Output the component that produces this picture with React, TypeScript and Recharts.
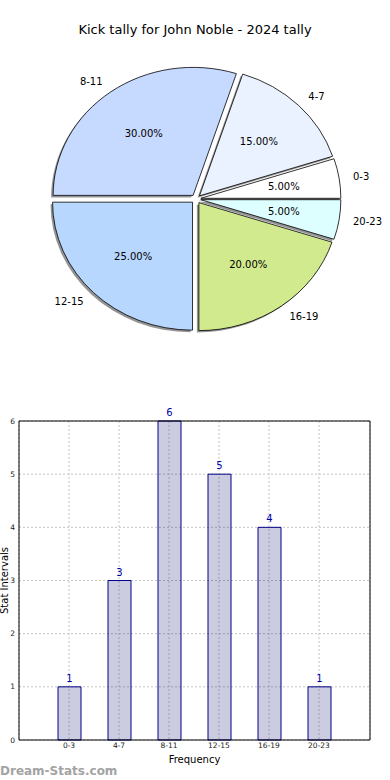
import { PieChart, Pie, BarChart, Bar, XAxis, YAxis, CartesianGrid, LabelList } from 'recharts';

// kick counts per interval
const categories = ['0-3', '4-7', '8-11', '12-15', '16-19', '20-23'];
const counts = [1, 3, 6, 5, 4, 1];
const yTicks = [0, 1, 2, 3, 4, 5, 6];

const sliceColors = ['#ffffff', '#eaf2ff', '#c6d9ff', '#b8d7ff', '#d1ea8d', '#ddffff'];

const pieData = categories.map((name, i) => ({ name, value: counts[i] }));
const barData = categories.map((name, i) => ({ name, value: counts[i] }));

const FONT = '"DejaVu Sans", Verdana, sans-serif';
const RX_RATIO = 140 / 128; // pie is squashed into an ellipse
const EXPLODE = 0.035;
const SHADOW_DX = -2;
const SHADOW_DY = 2;

const RAD = Math.PI / 180;

function geom(p: any) {
  const a0 = p.startAngle;
  const a1 = p.endAngle;
  const mid = (a0 + a1) / 2;
  const ry = p.outerRadius;
  const rx = ry * RX_RATIO;
  const ex = p.cx + EXPLODE * rx * Math.cos(mid * RAD);
  const ey = p.cy - EXPLODE * ry * Math.sin(mid * RAD);
  return { a0, a1, mid, rx, ry, ex, ey };
}

function wedge(ex: number, ey: number, rx: number, ry: number, a0: number, a1: number) {
  const x0 = ex + rx * Math.cos(a0 * RAD);
  const y0 = ey - ry * Math.sin(a0 * RAD);
  const x1 = ex + rx * Math.cos(a1 * RAD);
  const y1 = ey - ry * Math.sin(a1 * RAD);
  const large = a1 - a0 > 180 ? 1 : 0;
  return `M${ex},${ey} L${x0},${y0} A${rx},${ry} 0 ${large} 0 ${x1},${y1} Z`;
}

function renderShadow(p: any) {
  const g = geom(p);
  return (
    <path
      key={`sh-${p.index}`}
      d={wedge(g.ex + SHADOW_DX, g.ey + SHADOW_DY, g.rx, g.ry, g.a0, g.a1)}
      fill="#000"
      fillOpacity={0.42}
      stroke="none"
    />
  );
}

function renderSlice(p: any) {
  const g = geom(p);
  const c = Math.cos(g.mid * RAD);
  const s = Math.sin(g.mid * RAD);
  const lx = g.ex + 1.1 * g.rx * c;
  const ly = g.ey - 1.1 * g.ry * s;
  const px = g.ex + 0.6 * g.rx * c;
  const py = g.ey - 0.6 * g.ry * s;
  return (
    <g key={`sl-${p.index}`}>
      <path
        d={wedge(g.ex, g.ey, g.rx, g.ry, g.a0, g.a1)}
        fill={sliceColors[p.index]}
        stroke="#000"
        strokeWidth={0.8}
      />
      <text x={lx} y={ly} textAnchor={c > 0 ? 'start' : 'end'} dominantBaseline="central"
        fontSize={10} fontFamily={FONT} fill="#000">
        {p.payload.name}
      </text>
      <text x={px} y={py} textAnchor="middle" dominantBaseline="central"
        fontSize={10} fontFamily={FONT} fill="#000">
        {(p.percent * 100).toFixed(2)}%
      </text>
    </g>
  );
}

export default function App() {
  return (
    <div style={{ position: 'absolute', left: 0, top: 0, width: 390, height: 780, overflow: 'hidden', background: '#fff', fontFamily: FONT }}>
      <div style={{ position: 'absolute', left: 0, top: 23, width: 390, textAlign: 'center', fontSize: 13, lineHeight: '13px', color: '#000' }}>
        Kick tally for John Noble - 2024 tally
      </div>

      <div style={{ position: 'absolute', left: 0, top: 0 }}>
        <PieChart width={390} height={380} margin={{ top: 0, right: 0, bottom: 0, left: 0 }}>
          <Pie data={pieData} dataKey="value" nameKey="name" cx={196} cy={199} outerRadius={128}
            startAngle={0} endAngle={360} fill="none" stroke="none"
            label={renderShadow} labelLine={false} isAnimationActive={false} />
          <Pie data={pieData} dataKey="value" nameKey="name" cx={196} cy={199} outerRadius={128}
            startAngle={0} endAngle={360} fill="none" stroke="none"
            label={renderSlice} labelLine={false} isAnimationActive={false} />
        </PieChart>
      </div>

      <div style={{ position: 'absolute', left: 0, top: 400 }}>
        <BarChart width={390} height={380} data={barData} margin={{ top: 20, right: 19, bottom: 0, left: 0 }}>
          <CartesianGrid stroke="#c4c4c4" strokeDasharray="2 2" />
          <XAxis dataKey="name" height={40} padding={{ left: 25, right: 26 }}
            tickSize={0} tickMargin={3} axisLine={{ stroke: '#000' }}
            tick={{ fontSize: 7.5, fill: '#222', fontFamily: FONT }} interval={0}
            label={{ value: 'Frequency', position: 'insideTop', offset: 16, fontSize: 10, fill: '#000', fontFamily: FONT }} />
          <XAxis xAxisId="top" dataKey="name" orientation="top" height={1} tick={false} tickLine={false}
            axisLine={{ stroke: '#000' }} />
          <YAxis width={19} domain={[0, 6]} ticks={yTicks} tickSize={0} tickMargin={4} interval={0}
            axisLine={{ stroke: '#000' }} tick={{ fontSize: 7.5, fill: '#222', fontFamily: FONT }}
            label={{
              value: 'Stat Intervals',
              content: ({ viewBox }: any) => (
                <text x={viewBox.x + 4} y={viewBox.y + viewBox.height / 2}
                  transform={`rotate(-90 ${viewBox.x + 4} ${viewBox.y + viewBox.height / 2})`}
                  textAnchor="middle" dominantBaseline="central" fontSize={10} fontFamily={FONT} fill="#000">
                  Stat Intervals
                </text>
              ),
            }} />
          <YAxis yAxisId="right" orientation="right" width={1} tick={false} tickLine={false}
            axisLine={{ stroke: '#000' }} />
          <Bar dataKey="value" fill="#000066" fillOpacity={0.2} stroke="#000088" strokeWidth={1} barSize={23} isAnimationActive={false}>
            <LabelList dataKey="value" position="top" offset={5} fontSize={10} fill="#0000aa" fontFamily={FONT} />
          </Bar>
        </BarChart>
      </div>

      <div style={{ position: 'absolute', left: 0, top: 765, fontSize: 12, lineHeight: '12px', fontWeight: 'bold', color: '#a3a3a3' }}>
        Dream-Stats.com
      </div>
    </div>
  );
}
